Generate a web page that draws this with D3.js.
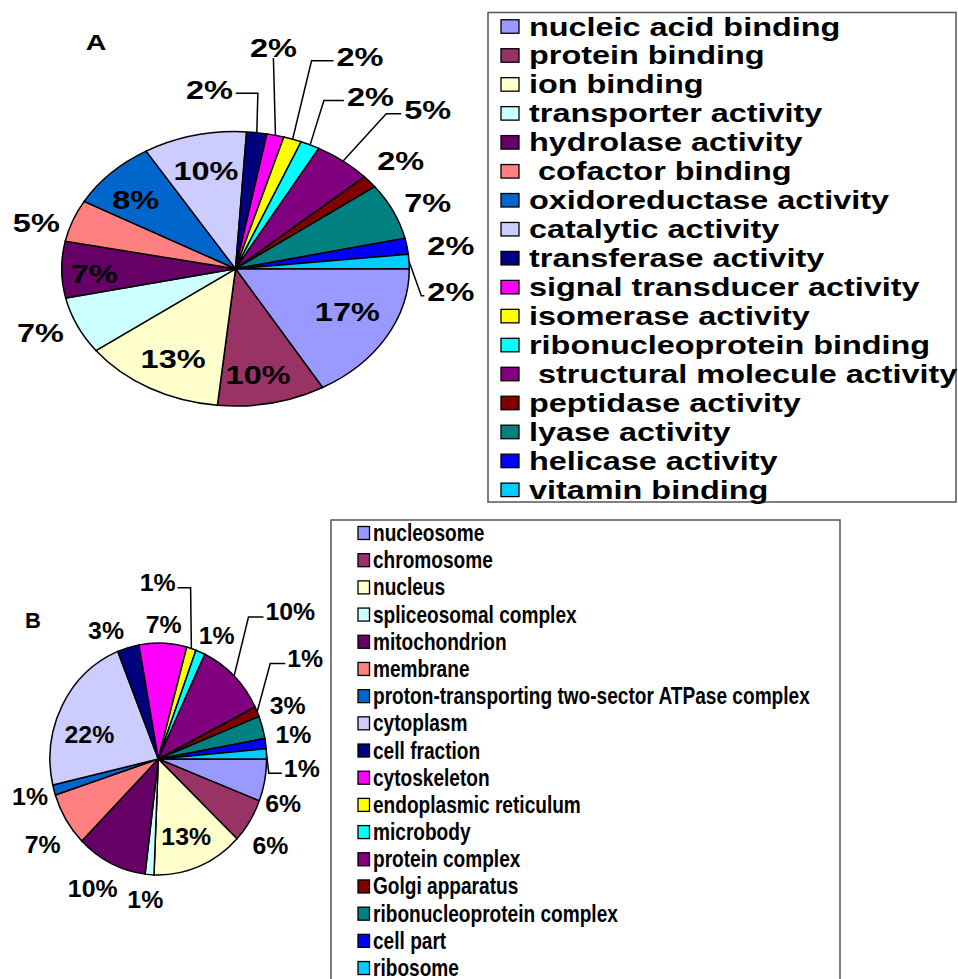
<!DOCTYPE html>
<html>
<head>
<meta charset="utf-8">
<script src="https://cdn.jsdelivr.net/npm/d3@7"></script>
<style>
	body { margin: 0; background: #fff; }
	svg text { font-family: "Liberation Sans", Arial, sans-serif; font-weight: bold; fill: #000; }
</style>
</head>
<body>
<div id="chart"></div>
<script>
const COLOR_PALETTE = [
	"#9999FF", "#993366", "#FFFFCC", "#CCFFFF", "#660066", "#FF8080",
	"#0066CC", "#CCCCFF", "#000080", "#FF00FF", "#FFFF00", "#00FFFF",
	"#800080", "#800000", "#008080", "#0000FF", "#00CCFF",
];

// Panel A - molecular function
const namesA = [
	"nucleic acid binding", "protein binding", "ion binding", "transporter activity",
	"hydrolase activity", " cofactor binding", "oxidoreductase activity", "catalytic activity",
	"transferase activity", "signal transducer activity", "isomerase activity",
	"ribonucleoprotein binding", " structural molecule activity", "peptidase activity",
	"lyase activity", "helicase activity", "vitamin binding",
];
const valuesA = [16.8, 10.1, 13.3, 6.8, 6.7, 5.0, 8.3, 9.7, 1.9, 1.6, 1.7, 1.8, 5.4, 1.5, 6.7, 1.9, 1.7];

// Panel B - cellular component
const namesB = [
	"nucleosome", "chromosome", "nucleus", "spliceosomal complex", "mitochondrion",
	"membrane", "proton-transporting two-sector ATPase complex", "cytoplasm", "cell fraction",
	"cytoskeleton", "endoplasmic reticulum", "microbody", "protein complex", "Golgi apparatus",
	"ribonucleoprotein complex", "cell part", "ribosome",
];
const valuesB = [5.8, 6.1, 13.4, 1.3, 10.4, 7.4, 1.4, 22.2, 3.2, 7.0, 1.4, 1.4, 10.4, 1.4, 3.1, 1.4, 1.4];

// label placement: [radius factor, angle shift in degrees, leader]
const labelLayoutA = [
	[0.716, -4], [0.784, 2.5], [0.748, -1], [1.214, 2], [0.813, -2.2], [1.194, -4.2],
	[0.762, -3.1], [0.737, 0.3], [1.317, -13.6, { side: "left", leg: 22 }],
	[1.63, -5.6, { side: "below" }], [1.703, 5.7, { side: "right", leg: 22 }],
	[1.476, 6.3, { side: "right", leg: 20 }], [1.602, 5.4, { side: "right", leg: 15 }],
	[1.234, -0.2], [1.207, 1.2], [1.25, 1.8], [1.25, 10.7, { side: "right", leg: 3 }],
];
const labelLayoutB = [
	[1.216, 7.9], [1.276, 3.5], [0.72, 1.2], [1.22, 1], [1.27, 2.5], [1.296, -3],
	[1.229, 0], [0.671, -9], [1.209, -7.4], [1.155, 0], [1.52, -18, { side: "left", leg: 13 }],
	[1.19, 4], [1.758, -0.5, { side: "right", leg: 15 }], [1.609, -8.5, { side: "right", leg: 15 }],
	[1.281, -5.3], [1.264, -1.7], [1.327, 6, { side: "right", leg: 13 }],
];

var width = 958;
var height = 979;

var svg = d3.select("#chart").append("svg")
	.attr("width", width)
	.attr("height", height);

function drawPie(cfg) {
	var pie = d3.pie()
		.sort(null)
		.startAngle(Math.PI / 2)
		.endAngle(Math.PI / 2 + 2 * Math.PI);
	var slices = pie(cfg.values);

	var arc = d3.arc().innerRadius(0).outerRadius(cfg.ry);

	// circle pie squashed into the ellipse of the picture
	var g = svg.append("g")
		.attr("transform", "translate(" + cfg.cx + "," + cfg.cy + ") scale(" + (cfg.rx / cfg.ry) + ",1)");

	g.selectAll("path")
		.data(slices)
		.enter().append("path")
		.attr("d", arc)
		.attr("fill", function(d, i) { return COLOR_PALETTE[i]; })
		.attr("stroke", "#000")
		.attr("stroke-width", 1.5)
		.attr("vector-effect", "non-scaling-stroke");

	function point(a, f) {
		return [cfg.cx + cfg.rx * f * Math.sin(a), cfg.cy - cfg.ry * f * Math.cos(a)];
	}

	var labels = svg.append("g");
	slices.forEach(function(d, i) {
		var lay = cfg.layout[i];
		var mid = (d.startAngle + d.endAngle) / 2;
		var p = point(mid + lay[1] * Math.PI / 180, lay[0]);

		var t = labels.append("g")
			.attr("transform", "translate(" + p[0] + "," + p[1] + ")")
			.append("text")
			.attr("transform", "scale(" + cfg.sx + ",1)")
			.attr("text-anchor", "middle")
			.attr("dy", "0.36em")
			.attr("font-size", cfg.fontSize)
			.text(Math.round(cfg.values[i]) + "%");

		if (!lay[2]) return;
		var lead = lay[2];
		var half = t.node().getComputedTextLength() * cfg.sx / 2;
		var p0 = point(mid, 1);
		var pts;
		if (lead.side === "below") {
			pts = [p0, [p[0], p[1] + cfg.fontSize * 0.42]];
		} else {
			var dir = lead.side === "left" ? 1 : -1;
			var p2 = [p[0] + dir * (half + cfg.gap), p[1] + cfg.lineDy];
			var p1 = [p2[0] + dir * lead.leg, p2[1]];
			pts = [p0, p1, p2];
		}
		labels.append("path")
			.attr("d", d3.line()(pts))
			.attr("fill", "none")
			.attr("stroke", "#000")
			.attr("stroke-width", 1.5);
	});
}

function drawLegend(cfg) {
	var g = svg.append("g");
	g.append("rect")
		.attr("x", cfg.x).attr("y", cfg.y)
		.attr("width", cfg.w).attr("height", cfg.h)
		.attr("fill", "#fff")
		.attr("stroke", "#555")
		.attr("stroke-width", 1.5);

	var rows = g.selectAll(".legend-item")
		.data(cfg.names)
		.enter().append("g")
		.attr("class", "legend-item")
		.attr("transform", function(d, i) { return "translate(0," + (cfg.rowStart + i * cfg.rowStep) + ")"; });

	rows.append("rect")
		.attr("x", cfg.swX).attr("y", -cfg.swH / 2)
		.attr("width", cfg.swW).attr("height", cfg.swH)
		.attr("fill", function(d, i) { return COLOR_PALETTE[i]; })
		.attr("stroke", "#000")
		.attr("stroke-width", 1.3);

	rows.append("text")
		.attr("transform", "translate(" + cfg.textX + "," + cfg.baseline + ") scale(" + cfg.sx + ",1)")
		.attr("font-size", cfg.fontSize)
		.style("white-space", "pre")
		.text(function(d) { return d; });
}

// Panel A
drawPie({
	cx: 235.5, cy: 268.8, rx: 173.8, ry: 137.2,
	values: valuesA, layout: labelLayoutA,
	fontSize: 26, sx: 1.25, gap: 3, lineDy: 4,
});
drawLegend({
	x: 488, y: 12.5, w: 468, h: 489.5, names: namesA,
	rowStart: 26.5, rowStep: 28.96, swX: 501, swW: 18, swH: 13.5,
	textX: 529, baseline: 9, fontSize: 25, sx: 1.296,
});
svg.append("text")
	.attr("transform", "translate(96,50) scale(1.3,1)")
	.attr("text-anchor", "middle")
	.attr("font-size", 22)
	.text("A");

// Panel B
drawPie({
	cx: 158.3, cy: 759, rx: 108.3, ry: 116,
	values: valuesB, layout: labelLayoutB,
	fontSize: 23, sx: 1.08, gap: 2, lineDy: 5,
});
drawLegend({
	x: 331, y: 520, w: 509, h: 480, names: namesB,
	rowStart: 533, rowStep: 27.19, swX: 358, swW: 11.5, swH: 13,
	textX: 373, baseline: 8, fontSize: 23, sx: 0.83,
});
svg.append("text")
	.attr("transform", "translate(33,628)")
	.attr("text-anchor", "middle")
	.attr("font-size", 22)
	.text("B");
</script>
</body>
</html>
